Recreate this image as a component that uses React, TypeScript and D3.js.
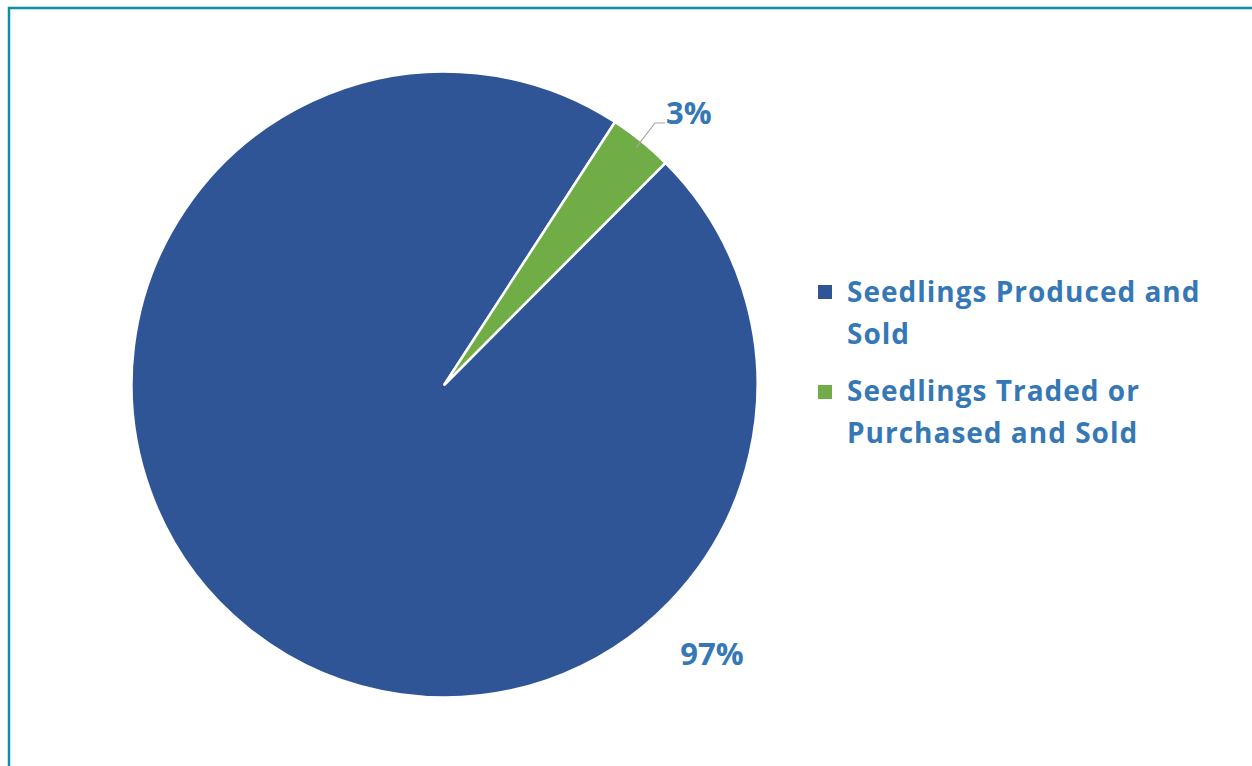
import React, { useEffect, useRef } from "react";
import * as d3 from "d3";

const categories = ["Seedlings Produced and Sold", "Seedlings Traded or Purchased and Sold"];
const legendLines = [["Seedlings Produced and", "Sold"], ["Seedlings Traded or", "Purchased and Sold"]];
const shares = [96.7, 3.3];
const labels = ["97%", "3%"];
const colors = ["#2f5597", "#70ad47"];

const W = 1252;
const H = 766;

export default function App() {
  const ref = useRef<SVGSVGElement | null>(null);

  useEffect(() => {
    const svg = d3.select(ref.current);
    svg.selectAll("*").remove();

    // frame
    svg.append("rect")
      .attr("x", 9).attr("y", 8)
      .attr("width", W + 20).attr("height", H + 20)
      .attr("fill", "#fff")
      .attr("stroke", "#0e8fa8")
      .attr("stroke-width", 2.5);

    const cx = 444.5, cy = 384.5, r = 313;
    const start = (44.9 * Math.PI) / 180;
    const pie = d3.pie<number>().sort(null).value(d => d).startAngle(start).endAngle(start + 2 * Math.PI);
    const arcs = pie(shares);
    const arc = d3.arc<d3.PieArcDatum<number>>().innerRadius(0).outerRadius(r);

    const g = svg.append("g").attr("transform", `translate(${cx},${cy})`);
    g.selectAll("path.slice")
      .data(arcs)
      .join("path")
      .attr("class", "slice")
      .attr("d", arc as any)
      .attr("fill", (_d, i) => colors[i])
      .attr("stroke", "#fff")
      .attr("stroke-width", 2.5)
      .attr("stroke-linejoin", "round");

    const textColor = "#3578b5";
    const font = "'Open Sans', sans-serif";

    // 97% label
    svg.append("text")
      .attr("x", 712).attr("y", 665)
      .attr("text-anchor", "middle")
      .attr("font-family", font).attr("font-weight", 700).attr("font-size", 31)
      .attr("fill", textColor)
      .text(labels[0]);

    // 3% label with leader
    const a1 = arcs[1];
    const mid = (a1.startAngle + a1.endAngle) / 2;
    const px = cx + Math.sin(mid) * (r - 8);
    const py = cy - Math.cos(mid) * (r - 8);
    svg.append("path")
      .attr("d", `M${px},${py} L655,123 L665,123`)
      .attr("fill", "none")
      .attr("stroke", "#a6a6a6")
      .attr("stroke-width", 1.2);
    svg.append("text")
      .attr("x", 666).attr("y", 124)
      .attr("font-family", font).attr("font-weight", 700).attr("font-size", 31)
      .attr("fill", textColor)
      .text(labels[1]);

    // legend
    const legendTop = [285, 385];
    const legendBase = [302, 401];
    categories.forEach((c, i) => {
      const lg = svg.append("g");
      lg.append("rect")
        .attr("x", 818).attr("y", legendTop[i])
        .attr("width", 14).attr("height", 14)
        .attr("fill", colors[i]);
      legendLines[i].forEach((line, j) => {
        lg.append("text")
          .attr("x", 847).attr("y", legendBase[i] + j * 42)
          .attr("font-family", font).attr("font-weight", 700).attr("font-size", 28)
          .attr("letter-spacing", 1)
          .attr("fill", textColor)
          .text(line);
      });
      lg.append("title").text(c);
    });
  }, []);

  return (
    <svg ref={ref} width={W} height={H} style={{ position: "absolute", left: 0, top: 0, display: "block" }} />
  );
}
